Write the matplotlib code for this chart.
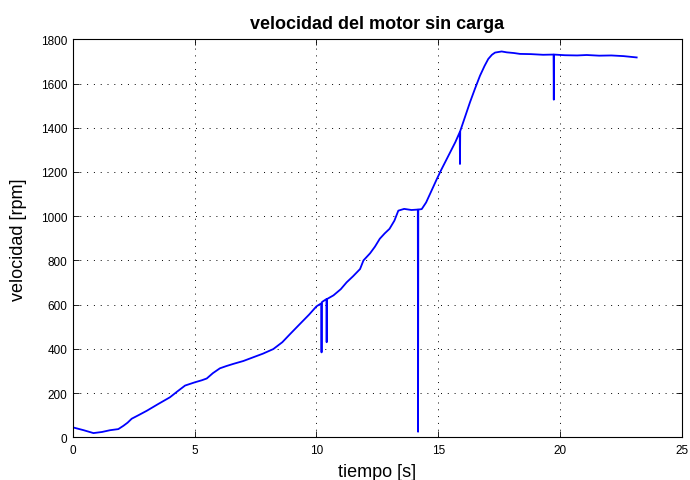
import matplotlib
matplotlib.use("Agg")
import matplotlib.pyplot as plt

plt.rcParams['font.family'] = ['Liberation Sans', 'DejaVu Sans']

# Measured motor speed (rpm) against time (s), no load
tiempo = [0.00, 0.45, 0.85, 1.20, 1.53, 1.87, 2.08, 2.25, 2.42, 2.70, 3.04, 3.50,
          3.99, 4.30, 4.61, 5.02, 5.30, 5.50, 5.75, 6.04, 6.30, 6.59, 7.00, 7.41,
          7.80, 8.23, 8.60, 8.92, 9.30, 9.70, 10.00, 10.20, 10.21, 10.22, 10.23,
          10.41, 10.42, 10.43, 10.70, 11.00, 11.24, 11.50, 11.79, 11.93, 12.20,
          12.40, 12.60, 12.80, 13.00, 13.20, 13.36, 13.60, 13.90, 14.16, 14.17,
          14.18, 14.32, 14.50, 14.70, 14.94, 15.10, 15.40, 15.70, 15.88, 15.89,
          15.90, 16.10, 16.30, 16.50, 16.71, 16.90, 17.05, 17.20, 17.33, 17.60,
          17.81, 18.10, 18.35, 18.80, 19.30, 19.73, 19.74, 19.75, 20.20, 20.70,
          21.09, 21.60, 22.10, 22.60, 23.14]
velocidad = [45, 32, 19, 24, 32, 37, 52, 66, 84, 100, 120, 150,
             181, 208, 234, 249, 258, 266, 290, 312, 322, 332, 345, 362,
             378, 399, 430, 467, 510, 555, 592, 606, 384, 606, 612,
             625, 430, 625, 642, 670, 701, 728, 761, 800, 832,
             862, 898, 922, 943, 980, 1025, 1033, 1028, 1030, 25,
             1030, 1032, 1062, 1110, 1168, 1205, 1270, 1335, 1380, 1236,
             1385, 1450, 1515, 1575, 1635, 1680, 1711, 1730, 1740, 1745,
             1741, 1738, 1734, 1733, 1730, 1731, 1527, 1731, 1728, 1727,
             1729, 1726, 1727, 1724, 1718]

x_ticks = [0, 5, 10, 15, 20, 25]
y_ticks = [0, 200, 400, 600, 800, 1000, 1200, 1400, 1600, 1800]

fig = plt.figure(figsize=(6.9, 4.81), dpi=100)
ax = fig.add_axes([0.1054, 0.0888, 0.9884 - 0.1054, 0.9162 - 0.0888])

ax.plot(tiempo, velocidad, color=(0, 0, 1), linewidth=1.3)

ax.set_xlim(0, 25)
ax.set_ylim(0, 1800)
ax.set_xticks(x_ticks)
ax.set_yticks(y_ticks)
ax.tick_params(direction='in', length=4, width=0.6, top=True, right=True,
               labelsize=8.5)
ax.tick_params(axis='x', pad=5)
ax.tick_params(axis='y', pad=4)
for s in ax.spines.values():
    s.set_linewidth(0.8)

ax.grid(True, color='black', linestyle=(0, (1, 6)), linewidth=0.7)

ax.set_title('velocidad del motor sin carga', fontsize=13, fontweight='bold', pad=8)
ax.set_xlabel('tiempo [s]', fontsize=13, labelpad=5)
ax.set_ylabel('velocidad [rpm]', fontsize=13, labelpad=10)

fig.savefig('out.png', dpi=100)
